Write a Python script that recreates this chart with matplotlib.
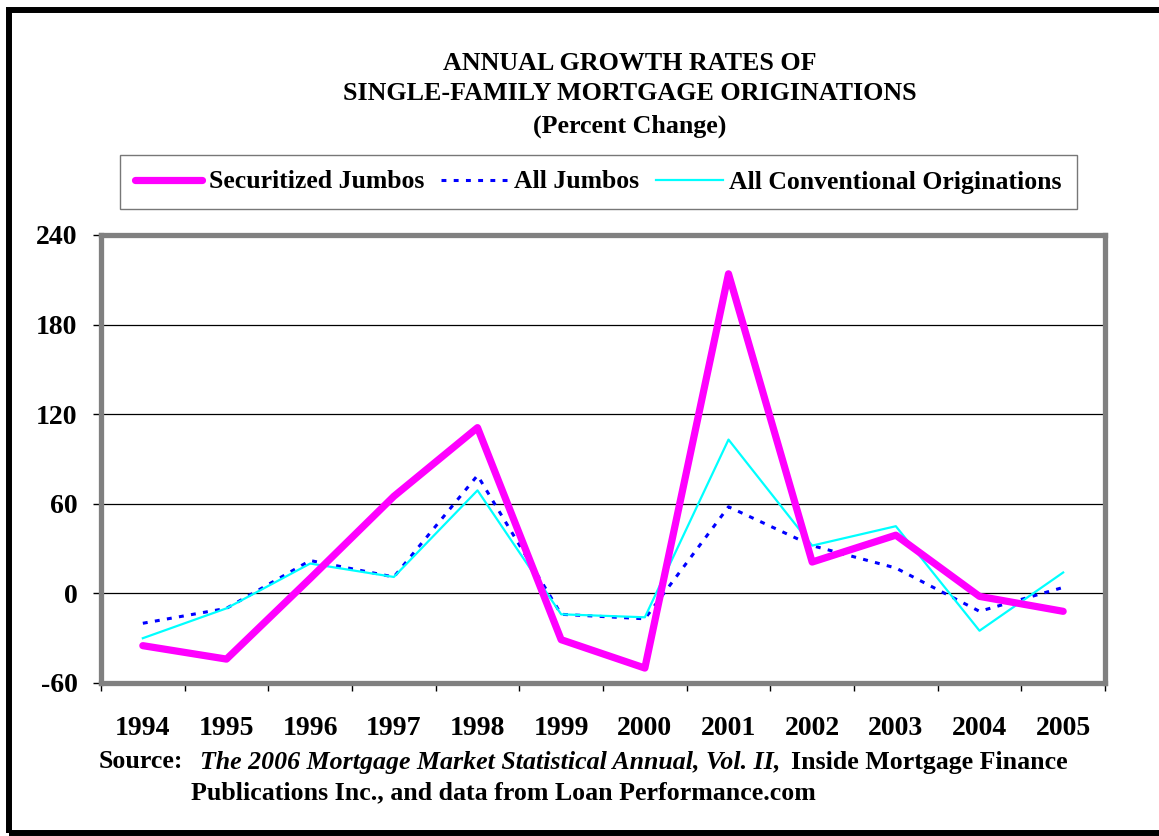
import matplotlib
matplotlib.use("Agg")
import matplotlib.pyplot as plt
from matplotlib.patches import Rectangle

# data (percent change)
years = ["1994", "1995", "1996", "1997", "1998", "1999",
         "2000", "2001", "2002", "2003", "2004", "2005"]
securitized = [-35, -44, 10, 65, 111, -31, -50, 214, 21, 39, -2, -12]
all_jumbos = [-20, -10, 22, 11, 79, -14, -17, 58, 32, 17, -12, 4]
all_conv = [-30, -10, 20, 11, 69, -14, -16, 103, 32, 45, -25, 14]
yticks = [-60, 0, 60, 120, 180, 240]

plt.rcParams['font.family'] = ['Liberation Serif', 'DejaVu Serif']
plt.rcParams['font.weight'] = 'bold'

W, H = 1159, 836
fig = plt.figure(figsize=(W / 100, H / 100), dpi=100)

def fx(px):
    return px / W

def fy(py):
    return 1 - py / H

# outer black frame (right side runs off the picture)
fig.patches.append(Rectangle((fx(9), fy(833)), fx(1175) - fx(9), fy(10) - fy(833),
                             transform=fig.transFigure, fill=False,
                             edgecolor='black', linewidth=4.3, clip_on=False))

ax = fig.add_axes([fx(101), fy(683), fx(1105) - fx(101), fy(235) - fy(683)])
x = list(range(len(years)))
ax.plot(x, all_jumbos, color='#0000FF', linewidth=2.2, linestyle=(0, (1.6, 2.4)),
        label='All Jumbos', zorder=3)
ax.plot(x, all_conv, color='#00FFFF', linewidth=1.6,
        label='All Conventional Originations', zorder=3)
ax.plot(x, securitized, color='#FF00FF', linewidth=5.2, solid_capstyle='round',
        label='Securitized Jumbos', zorder=4)

ax.set_xlim(-0.5, len(years) - 0.5)
ax.set_ylim(-60, 240)
ax.set_yticks(yticks)
ax.set_yticklabels([str(v) for v in yticks])
ax.set_xticks(x)
ax.set_xticklabels(years)
ax.set_xticks([i - 0.5 for i in range(len(years) + 1)], minor=True)
ax.tick_params(axis='x', which='major', length=0, pad=24, labelsize=20)
ax.tick_params(axis='x', which='minor', length=6, width=1, direction='out', color='black')
ax.tick_params(axis='y', length=6, width=1, direction='out', pad=11, labelsize=20)
for lab in ax.get_xticklabels() + ax.get_yticklabels():
    lab.set_fontweight('bold')

ax.yaxis.grid(True, color='black', linewidth=0.9)
ax.set_axisbelow(True)
for sp in ax.spines.values():
    sp.set_color('#808080')
    sp.set_linewidth(3.8)

# legend in same order as reference
h, l = ax.get_legend_handles_labels()
order = [2, 0, 1]
leg = fig.legend([h[i] for i in order], [l[i] for i in order],
                 loc='center', ncol=3, mode='expand',
                 bbox_to_anchor=(fx(120), fy(206), fx(1077) - fx(120), fy(158) - fy(206)),
                 prop={'size': 18.5, 'weight': 'bold'}, frameon=True, fancybox=False,
                 handlelength=2.6, handletextpad=0.25, columnspacing=0.5,
                 borderpad=0.6, borderaxespad=0)
leg.get_frame().set_edgecolor('#555555')
leg.get_frame().set_linewidth(1.0)

# title
fs = 18.7
fig.text(fx(630), fy(64), 'ANNUAL GROWTH RATES OF', ha='center', va='center',
         fontsize=fs, fontweight='bold')
fig.text(fx(630), fy(93), 'SINGLE-FAMILY MORTGAGE ORIGINATIONS', ha='center', va='center',
         fontsize=fs, fontweight='bold')
fig.text(fx(630), fy(126), '(Percent Change)', ha='center', va='center',
         fontsize=fs, fontweight='bold')

# source note
sfs = 18.6
fig.text(fx(99), fy(762), 'Source:', ha='left', va='center', fontsize=sfs, fontweight='bold')
fig.text(fx(200), fy(762), 'The 2006 Mortgage Market Statistical Annual, Vol. II,',
         ha='left', va='center', fontsize=sfs, fontweight='bold', fontstyle='italic')
fig.text(fx(791), fy(762), 'Inside Mortgage Finance', ha='left', va='center',
         fontsize=sfs, fontweight='bold')
fig.text(fx(191), fy(793), 'Publications Inc., and data from Loan Performance.com',
         ha='left', va='center', fontsize=sfs, fontweight='bold')

fig.savefig('out.png', dpi=100)
